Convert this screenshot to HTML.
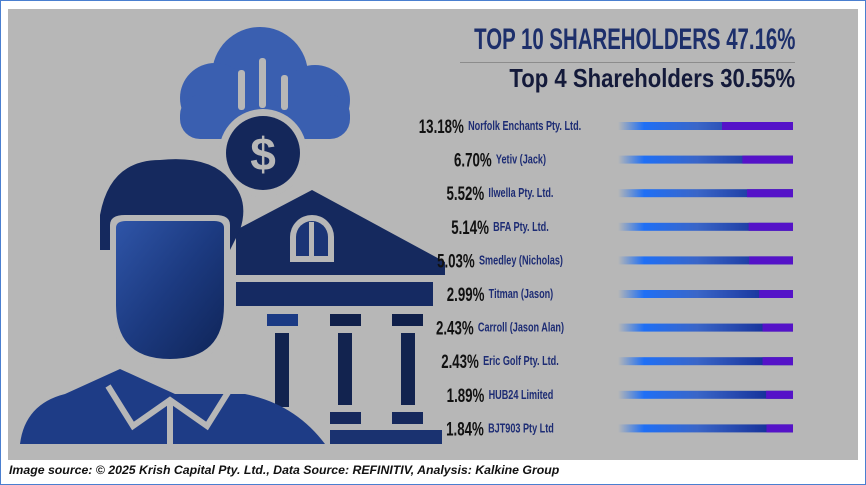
<!DOCTYPE html>
<html><head><meta charset="utf-8"><style>
html,body{margin:0;padding:0;}
body{width:866px;height:485px;background:#fff;position:relative;overflow:hidden;font-family:"Liberation Sans",sans-serif;}
#frame{position:absolute;left:0;top:0;width:864px;height:483px;border:1px solid #4a7fd0;}
#panel{position:absolute;left:8px;top:9px;width:850px;height:451px;background:#b7b7b7;}
#footer{position:absolute;left:9px;top:463px;font:italic bold 12.3px "Liberation Sans",sans-serif;color:#111;white-space:nowrap;}
.t1{position:absolute;right:71px;top:23px;font-weight:bold;font-size:30px;color:#1d2f6b;transform:scaleX(0.68);transform-origin:right center;white-space:nowrap;}
.t2{position:absolute;right:71px;top:63px;font-weight:bold;font-size:26px;color:#141a3a;transform:scaleX(0.85);transform-origin:right center;white-space:nowrap;}
.rule{position:absolute;left:460px;top:62px;width:335px;height:1px;background:#8c8c8c;}
</style></head><body>
<div id="frame"></div>
<div id="panel"></div>
<svg width="866" height="485" style="position:absolute;left:0;top:0">
<defs>
<linearGradient id="ill" x1="0" y1="0" x2="1" y2="1"><stop offset="0" stop-color="#2f55a8"/><stop offset="0.5" stop-color="#1c3a80"/><stop offset="1" stop-color="#0f2457"/></linearGradient>
</defs>
<g>
<circle cx="260" cy="75" r="48" fill="#3a5fb0"/><circle cx="215" cy="98" r="35" fill="#3a5fb0"/><circle cx="315" cy="100" r="35" fill="#3a5fb0"/>
<rect x="180" y="95" width="170" height="44" rx="20" fill="#3a5fb0"/>
<rect x="238" y="70" width="7" height="40" rx="3" fill="#b7b7b7"/><rect x="259" y="58" width="7" height="50" rx="3" fill="#b7b7b7"/><rect x="281" y="75" width="7" height="35" rx="3" fill="#b7b7b7"/>
<circle cx="263" cy="153" r="44" fill="#b7b7b7"/><circle cx="263" cy="153" r="37" fill="#14275a"/>
<text x="263" y="170" text-anchor="middle" font-family="Liberation Sans" font-weight="bold" font-size="46" fill="#b7b7b7">$</text>
</g>
<g>
<polygon points="312,190 445,262 445,275 236,275 236,230" fill="#15295e"/>
<path d="M290 262 v-25 a22 22 0 0 1 44 0 v25 z" fill="#b7b7b7"/><path d="M296 256 v-19 a16 16 0 0 1 32 0 v19 z" fill="#1b3576"/><rect x="309" y="222" width="5" height="36" fill="#b7b7b7"/>
<rect x="236" y="282" width="197" height="24" fill="#152a62"/>
<rect x="267" y="314" width="31" height="12" fill="#1b3a84"/><rect x="330" y="314" width="31" height="12" fill="#0f1f4a"/><rect x="392" y="314" width="31" height="12" fill="#0f1f4a"/>
<rect x="275" y="333" width="14" height="74" fill="#12234f"/><rect x="338" y="333" width="14" height="72" fill="#12234f"/><rect x="401" y="333" width="14" height="72" fill="#12234f"/>
<rect x="330" y="412" width="31" height="12" fill="#15285c"/><rect x="392" y="412" width="31" height="12" fill="#15285c"/>
<rect x="330" y="430" width="112" height="14" fill="#1a3270"/>
</g>
<g>
<path d="M100 215 q10-55 60-55 q50-5 70 20 q20 20 10 50 l-10 20 l-130 0 z" fill="#15295e"/>
<path d="M20 444 q5-40 45-50 l55-25 l55 25 l20 0 l50 0 q50 10 80 50 z" fill="#1e3c86"/>
<path d="M110 225 q0-10 15-10 h90 q15 0 15 10 v80 q0 60-60 60 q-60 0-60-60 z" fill="#b7b7b7"/>
<path d="M116 228 q0-7 10-7 h88 q10 0 10 7 v77 q0 54-54 54 q-54 0-54-54 z" fill="url(#ill)"/>
<path d="M108 386 l25 40 l37-26 l37 26 l25-40" fill="none" stroke="#b7b7b7" stroke-width="6"/>
<line x1="170" y1="400" x2="170" y2="444" stroke="#b7b7b7" stroke-width="6"/>
</g>
</svg>
<div class="t1">TOP 10 SHAREHOLDERS 47.16%</div>
<div class="rule"></div>
<div class="t2">Top 4 Shareholders 30.55%</div>
<svg id="bars" width="866" height="485" style="position:absolute;left:0;top:0"></svg>
<div id="footer">Image source: © 2025 Krish Capital Pty. Ltd., Data Source: REFINITIV, Analysis: Kalkine Group</div>
<script>
const names=["Norfolk Enchants Pty. Ltd.","Yetiv (Jack)","Ilwella Pty. Ltd.","BFA Pty. Ltd.","Smedley (Nicholas)","Titman (Jason)","Carroll (Jason Alan)","Eric Golf Pty. Ltd.","HUB24 Limited","BJT903 Pty Ltd"];
const values=[13.18,6.70,5.52,5.14,5.03,2.99,2.43,2.43,1.89,1.84];
const labels=["13.18%","6.70%","5.52%","5.14%","5.03%","2.99%","2.43%","2.43%","1.89%","1.84%"];
const NS="http://www.w3.org/2000/svg";
const svg=document.getElementById('bars');
const y0=126,step=33.6,barEnd=793,barStart=618,SX=0.7;
const pw=v=>20*Math.sqrt(v)*(71/72.6);
const defs=document.createElementNS(NS,'defs');svg.appendChild(defs);
defs.innerHTML='<linearGradient id="bg" x1="0" x2="1"><stop offset="0" stop-color="#1a6cf0" stop-opacity="0"/><stop offset="0.15" stop-color="#1f6ff5"/><stop offset="0.45" stop-color="#3a66c8"/><stop offset="1" stop-color="#0a1f8a"/></linearGradient>';
values.forEach((v,i)=>{
 const y=y0+i*step;
 const g=document.createElementNS(NS,'g');
 
 
 const r=document.createElementNS(NS,'rect');
 r.setAttribute('x',barStart);r.setAttribute('y',y-4);r.setAttribute('width',barEnd-barStart);r.setAttribute('height',8);r.setAttribute('fill','url(#bg)');
 
 
 g.appendChild(r);
 const p=document.createElementNS(NS,'rect');const w=pw(v);
 p.setAttribute('x',barEnd-w);p.setAttribute('y',y-4);p.setAttribute('width',w);p.setAttribute('height',8);p.setAttribute('fill','#5512c8');
 
 
 g.appendChild(p);
 const tg=document.createElementNS(NS,'g');
 
 
 const lbl=document.createElementNS(NS,'text');
 lbl.setAttribute('font-weight','bold');lbl.setAttribute('font-size','13');lbl.setAttribute('fill','#1d2c74');
 lbl.textContent=names[i];
 
 
 tg.appendChild(lbl);
 const pct=document.createElementNS(NS,'text');
 pct.setAttribute('font-size','19');pct.setAttribute('font-weight','bold');pct.setAttribute('fill','#111');
 pct.textContent=labels[i];
 
 
 tg.appendChild(pct);
 g.appendChild(tg);
 svg.appendChild(g);
 const nw=lbl.getComputedTextLength();const ptw=pct.getComputedTextLength();
 pct.setAttribute('x',0);pct.setAttribute('y',7);
 lbl.setAttribute('x',ptw+6);lbl.setAttribute('y',4);
 const total=(ptw+6+nw)*SX;const left=500-total/2;
 tg.setAttribute('transform','translate('+left+','+y+') scale('+SX+',1)');
});
</script>
</body></html>
